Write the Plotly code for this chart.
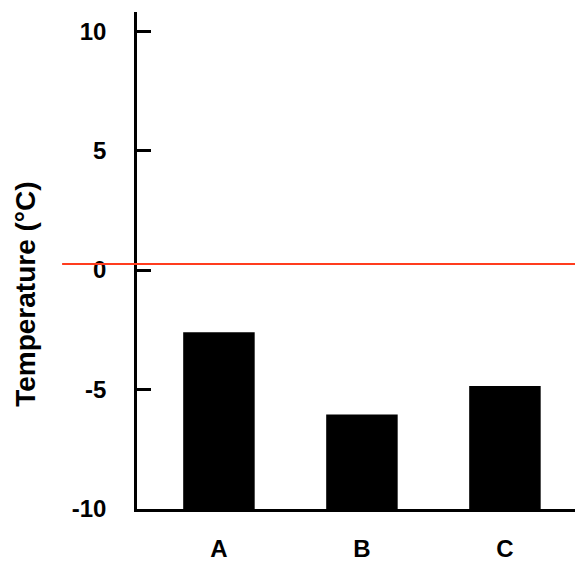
import plotly.graph_objects as go

categories = ["A", "B", "C"]
temperatures = [-2.6, -6.05, -4.85]
axis_floor = -10
reference_line = 0.25
y_ticks = [-10, -5, 0, 5, 10]

FAM = "Liberation Sans, Arial, sans-serif"

fig = go.Figure()
fig.add_trace(go.Bar(
    x=categories,
    y=[t - axis_floor for t in temperatures],
    base=axis_floor,
    marker=dict(color="black", line=dict(width=0)),
    width=0.5,
))

fig.add_shape(type="line", xref="paper", yref="y",
              x0=-0.171, x1=1, y0=reference_line, y1=reference_line,
              line=dict(color="#ff3c1e", width=2), layer="above")

fig.add_annotation(text="Temperature (°C)", xref="paper", yref="paper",
                   x=-0.2534, y=0.431, showarrow=False, textangle=-90,
                   xanchor="center", yanchor="middle",
                   font=dict(family=FAM, size=28, color="black", weight="bold"))

fig.update_layout(
    width=575, height=562,
    margin=dict(l=137, r=0, t=12, b=49),
    paper_bgcolor="white", plot_bgcolor="white",
    showlegend=False,
    xaxis=dict(
        range=[-0.573, 2.49],
        showline=True, linecolor="black", linewidth=2.5,
        ticks="", showgrid=False, zeroline=False,
        tickfont=dict(family=FAM, size=24, color="black", weight="bold"),
        ticklabelstandoff=16,
    ),
    yaxis=dict(
        range=[-10, 10.8],
        tickvals=y_ticks,
        ticktext=[str(v) for v in y_ticks],
        showline=True, linecolor="black", linewidth=2.5,
        ticks="inside", ticklen=14, tickwidth=2.5, tickcolor="black",
        showgrid=False, zeroline=False,
        tickfont=dict(family=FAM, size=24, color="black", weight="bold"),
        ticklabelstandoff=23,
    ),
)

fig.write_html("out.html", config={"displayModeBar": False},
               post_script="document.body.style.margin='0';document.body.style.overflow='hidden';")
